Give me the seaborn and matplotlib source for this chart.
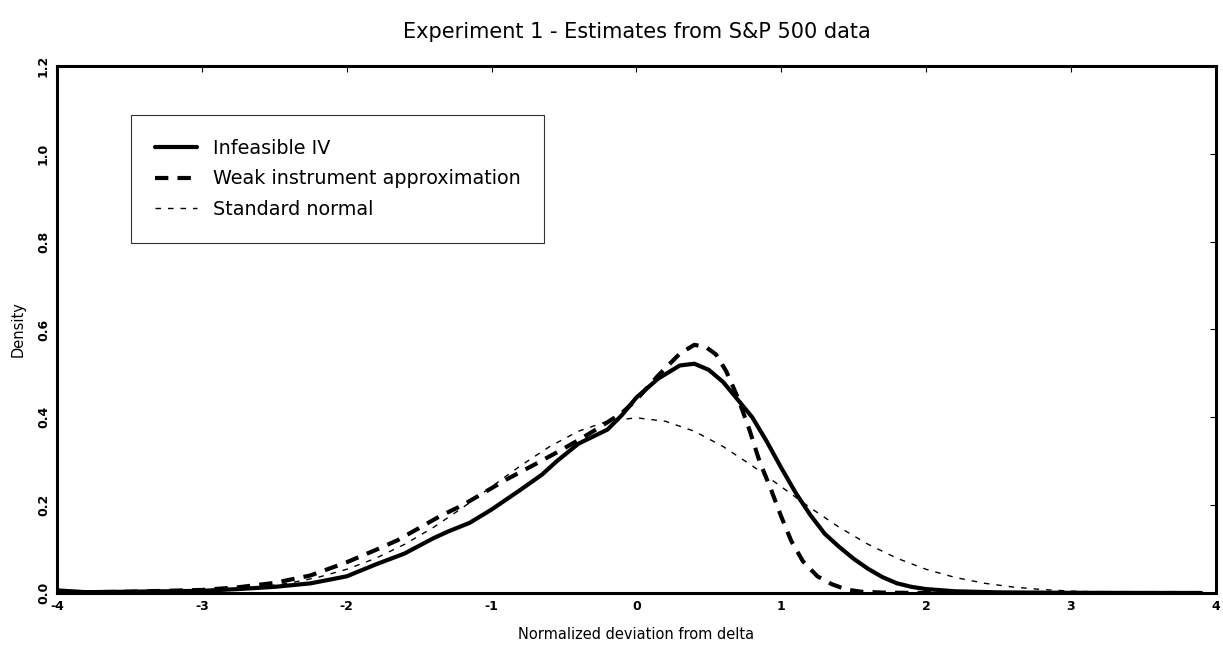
import numpy as np
import pandas as pd
import matplotlib
matplotlib.use('Agg')
import matplotlib.pyplot as plt
import seaborn as sns

# infeasible IV density
x_iv = [-4.0, -3.8, -3.5, -3.0, -2.75, -2.5, -2.25, -2.0, -1.8, -1.6, -1.4, -1.3, -1.15, -1.0,
        -0.8, -0.65, -0.55, -0.4, -0.2, -0.1, 0.0, 0.15, 0.3, 0.4, 0.5, 0.6, 0.7, 0.8, 0.9,
        1.0, 1.1, 1.2, 1.3, 1.4, 1.5, 1.6, 1.7, 1.8, 1.9, 2.0, 2.2, 2.5, 3.0, 3.5, 3.9]
y_iv = [0.006, 0.002, 0.003, 0.005, 0.009, 0.014, 0.022, 0.038, 0.065, 0.09, 0.125, 0.14, 0.16, 0.19,
        0.235, 0.27, 0.30, 0.34, 0.372, 0.405, 0.445, 0.488, 0.518, 0.522, 0.508, 0.48, 0.44, 0.40, 0.345,
        0.285, 0.228, 0.178, 0.135, 0.105, 0.078, 0.055, 0.036, 0.022, 0.014, 0.009, 0.004, 0.0015, 0.0005, 0.0002, 0.0001]

# weak instrument approximation
x_wi = [-4.0, -3.5, -3.0, -2.75, -2.5, -2.25, -2.0, -1.8, -1.65, -1.5, -1.35, -1.2, -1.05, -0.9,
        -0.7, -0.55, -0.4, -0.25, -0.1, 0.0, 0.15, 0.3, 0.4, 0.48, 0.55, 0.62, 0.7, 0.78, 0.85,
        0.93, 1.0, 1.07, 1.15, 1.25, 1.35, 1.45, 1.55, 1.7, 2.0, 2.5, 3.0, 3.5, 3.9]
y_wi = [0.001, 0.003, 0.007, 0.013, 0.023, 0.04, 0.07, 0.098, 0.12, 0.148, 0.176, 0.20, 0.229, 0.258,
        0.293, 0.32, 0.348, 0.378, 0.41, 0.44, 0.495, 0.545, 0.565, 0.56, 0.543, 0.505, 0.445, 0.372, 0.30,
        0.235, 0.174, 0.118, 0.072, 0.038, 0.02, 0.008, 0.003, 0.001, 0.0, 0.0, 0.0, 0.0, 0.0]

# standard normal
x_sn = [-4.0, -3.8, -3.6, -3.4, -3.2, -3.0, -2.8, -2.6, -2.4, -2.2, -2.0, -1.8, -1.6, -1.4, -1.2, -1.0,
        -0.8, -0.6, -0.4, -0.2, 0.0, 0.2, 0.4, 0.6, 0.8, 1.0, 1.2, 1.4, 1.6, 1.8, 2.0, 2.2, 2.4, 2.6,
        2.8, 3.0, 3.2, 3.4, 3.6, 3.8, 3.9]
y_sn = [0.0001, 0.0003, 0.0006, 0.0012, 0.0024, 0.0044, 0.0079, 0.0136, 0.0224, 0.0355, 0.0540, 0.0790,
        0.1109, 0.1497, 0.1942, 0.2420, 0.2897, 0.3332, 0.3683, 0.3910, 0.3989, 0.3910, 0.3683, 0.3332,
        0.2897, 0.2420, 0.1942, 0.1497, 0.1109, 0.0790, 0.0540, 0.0355, 0.0224, 0.0136, 0.0079, 0.0044,
        0.0024, 0.0012, 0.0006, 0.0003, 0.0002]

x_ticks = [-4, -3, -2, -1, 0, 1, 2, 3, 4]
y_ticks = [0.0, 0.2, 0.4, 0.6, 0.8, 1.0, 1.2]

sns.set_style('white')
plt.rcParams['font.family'] = ['DejaVu Sans']
plt.rcParams['text.color'] = 'black'
plt.rcParams['axes.labelcolor'] = 'black'
plt.rcParams['xtick.color'] = 'black'
plt.rcParams['ytick.color'] = 'black'

fig = plt.figure(figsize=(12.23, 6.46), dpi=100)
ax = fig.add_axes([0.0466, 0.082, 0.9475, 0.816])

sns.lineplot(x=x_iv, y=y_iv, ax=ax, color='black', linewidth=3.0, label='Infeasible IV')
sns.lineplot(x=x_wi, y=y_wi, ax=ax, color='black', linewidth=3.0,
             linestyle=(0, (3.2, 2.2)), label='Weak instrument approximation')
sns.lineplot(x=x_sn, y=y_sn, ax=ax, color='black', linewidth=1.0,
             linestyle=(0, (4, 5)), label='Standard normal')

ax.set_xlim(-4, 4)
ax.set_ylim(0, 1.2)
ax.set_xticks(x_ticks)
ax.set_yticks(y_ticks)
ax.set_xticklabels([str(t) for t in x_ticks], fontsize=9, fontweight='semibold')
ax.set_yticklabels(['%.1f' % t for t in y_ticks], fontsize=9, fontweight='semibold', rotation=90, va='center')
ax.tick_params(direction='in', length=4, width=0.8, top=True, right=True, color='black', pad=5)

for sp in ax.spines.values():
    sp.set_color('black')
    sp.set_linewidth(2.2)

ax.set_xlabel('Normalized deviation from delta', fontsize=10.5, labelpad=10)
ax.set_ylabel('Density', fontsize=10.5, labelpad=8)
ax.set_title('Experiment 1 - Estimates from S&P 500 data', fontsize=15, pad=20)

leg = ax.legend(loc='upper left', bbox_to_anchor=(0.064, 0.907), borderaxespad=0,
                fontsize=13.8, frameon=True, fancybox=False, edgecolor='black',
                handlelength=2.2, handletextpad=0.8, labelspacing=0.6, borderpad=1.25)
leg.get_frame().set_linewidth(0.8)
for t in leg.get_texts():
    t.set_color('black')

fig.savefig('out.png', dpi=100)
